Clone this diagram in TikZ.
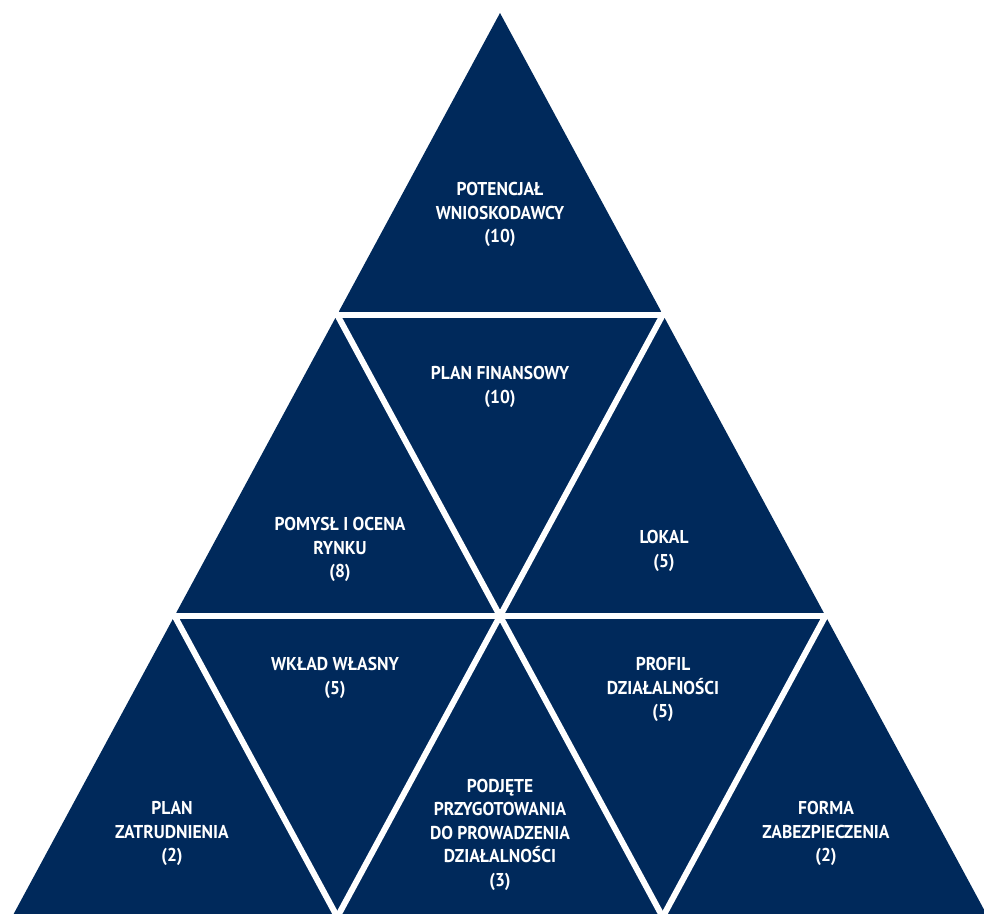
\documentclass[tikz,border=0pt]{standalone}
\usepackage{fontspec}
\setmainfont{PT Sans}[FakeStretch=0.94]
\usetikzlibrary{calc}
\definecolor{navy}{RGB}{0,41,91}

\begin{document}
\begin{tikzpicture}[x=0.5pt,y=-0.5pt,
  lbl/.style={text=white,font=\bfseries\fontsize{9.3}{11.75}\selectfont,align=center,inner sep=0pt},
  gap/.style={white,line width=3pt,shorten <=-4pt,shorten >=-4pt}]
\useasboundingbox (0,0) rectangle (984,914);
\clip (0,0) rectangle (984,914);
% corners of the small triangles, row by row
\coordinate (a) at (500,13);
\coordinate (b1) at (337.3,315);
\coordinate (b2) at (662.7,315);
\coordinate (c1) at (174.6,616);
\coordinate (c2) at (500,616);
\coordinate (c3) at (825.4,616);
\coordinate (d1) at (12,917);
\coordinate (d2) at (337.3,917);
\coordinate (d3) at (662.7,917);
\coordinate (d4) at (988,917);
\fill[navy] (a) -- (d1) -- (d4) -- cycle;
\draw[gap] (b1) -- (b2);
\draw[gap] (c1) -- (c3);
\draw[gap] (b1) -- (d3);
\draw[gap] (c1) -- (d2);
\draw[gap] (b2) -- (d2);
\draw[gap] (c3) -- (d3);
% labels
\node[lbl] (potencjal) at (500,214.5) {POTENCJAŁ\\WNIOSKODAWCY\\(10)};
\node[lbl] (finansowy) at (500,387) {PLAN FINANSOWY\\(10)};
\node[lbl] (pomysl) at (340,549.5) {POMYSŁ I OCENA\\RYNKU\\(8)};
\node[lbl] (lokal) at (664,551) {LOKAL\\(5)};
\node[lbl] (wklad) at (335,678) {WKŁAD WŁASNY\\(5)};
\node[lbl] (profil) at (663,689.5) {PROFIL\\DZIAŁALNOŚCI\\(5)};
\node[lbl] (zatrudnienie) at (172,833.5) {PLAN\\ZATRUDNIENIA\\(2)};
\node[lbl] (podjete) at (500,834.5) {PODJĘTE\\PRZYGOTOWANIA\\DO PROWADZENIA\\DZIAŁALNOŚCI\\(3)};
\node[lbl] (forma) at (826,833.5) {FORMA\\ZABEZPIECZENIA\\(2)};
\end{tikzpicture}
\end{document}
